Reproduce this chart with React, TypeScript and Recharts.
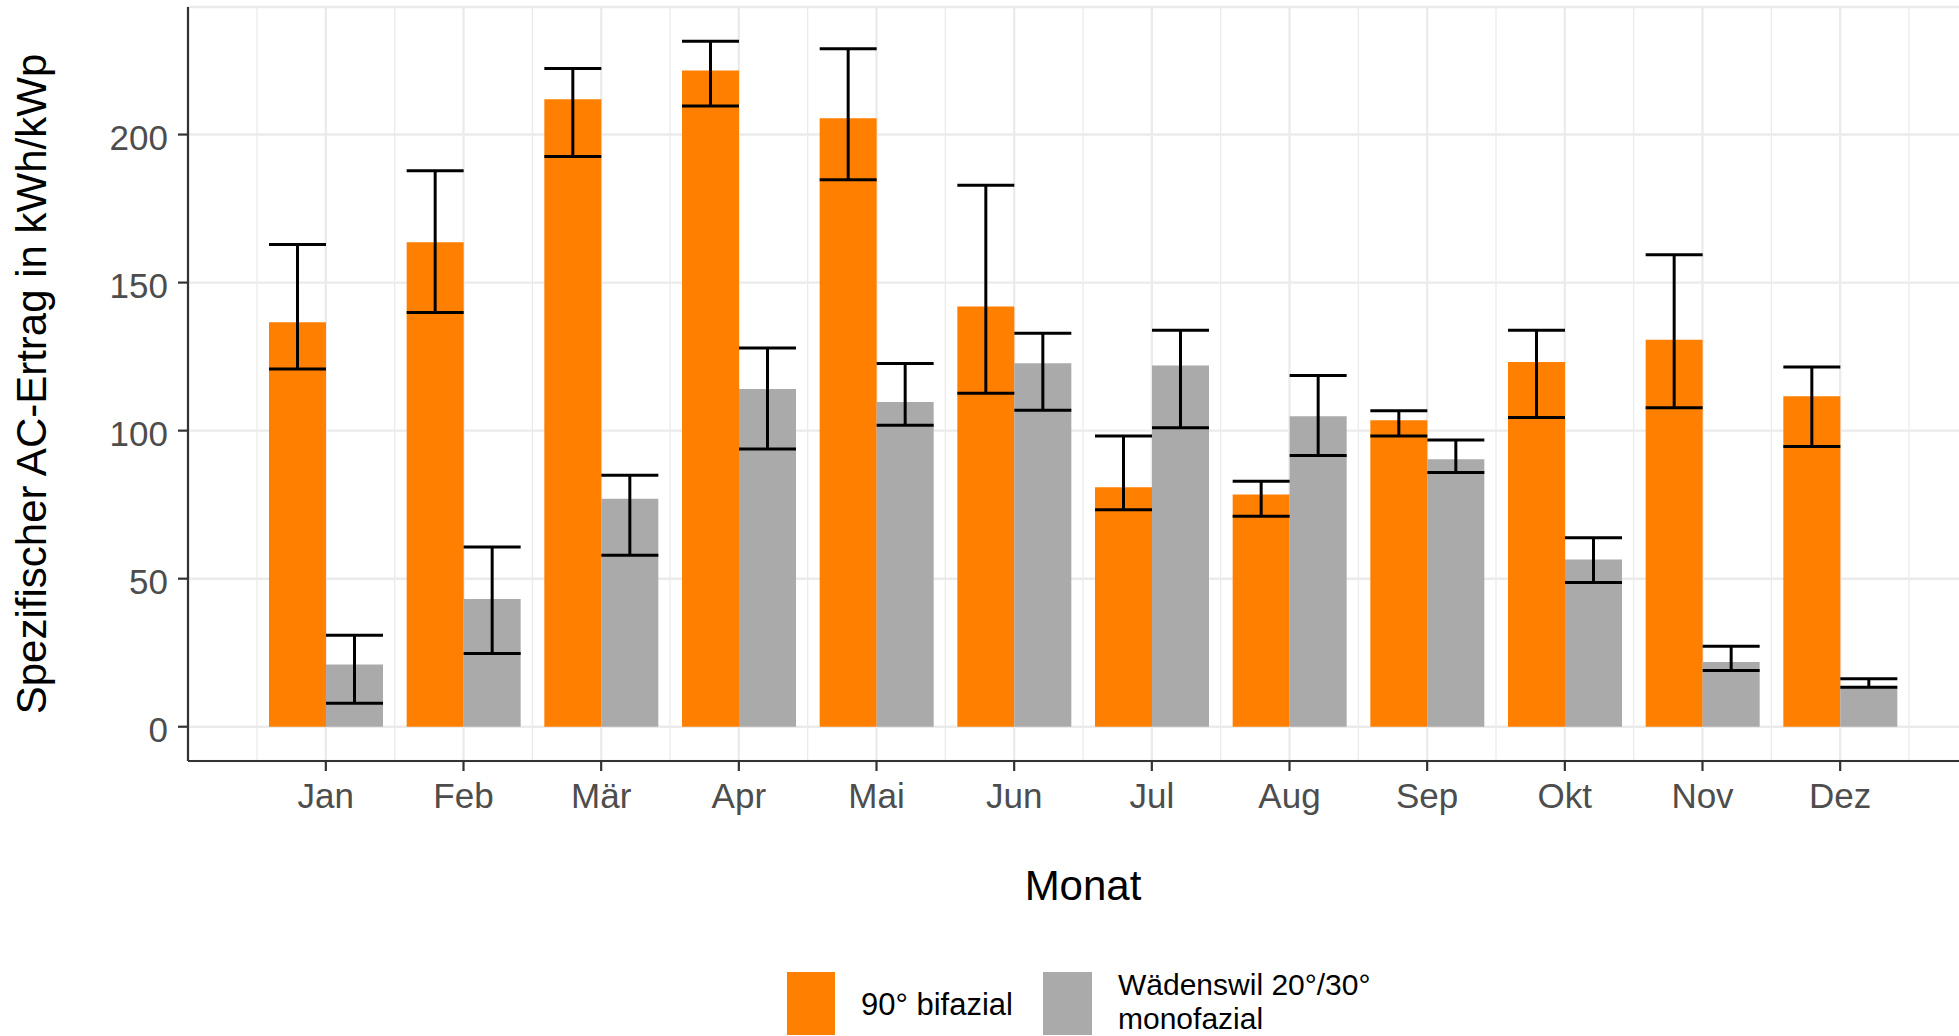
import React from "react";
import {
  BarChart,
  Bar,
  XAxis,
  YAxis,
  CartesianGrid,
  ErrorBar,
} from "recharts";

const months = ["Jan", "Feb", "Mär", "Apr", "Mai", "Jun", "Jul", "Aug", "Sep", "Okt", "Nov", "Dez"];

// 90° bifazial: mean, lower and upper error bound (kWh/kWp)
const bifazial = [136.6, 163.6, 211.9, 221.6, 205.5, 141.9, 80.9, 78.4, 103.5, 123.2, 130.7, 111.6];
const bifazialLow = [120.8, 139.9, 192.6, 209.6, 184.7, 112.6, 73.3, 71.1, 98.2, 104.4, 107.7, 94.6];
const bifazialHigh = [162.9, 187.8, 222.3, 231.5, 229.0, 182.9, 98.2, 82.9, 106.7, 133.9, 159.4, 121.5];

// Wädenswil 20°/30° monofazial
const mono = [21.0, 43.1, 77.0, 114.1, 109.7, 122.8, 122.0, 104.9, 90.3, 56.5, 21.9, 13.5];
const monoLow = [7.9, 24.7, 57.9, 93.8, 101.8, 106.9, 101.0, 91.6, 85.9, 48.7, 19.0, 13.3];
const monoHigh = [30.9, 60.7, 84.9, 127.9, 122.7, 132.9, 133.9, 118.6, 96.8, 63.8, 27.2, 16.2];

const yTicks = [0, 50, 100, 150, 200];

const seriesLabels = ["90° bifazial", "Wädenswil 20°/30°\nmonofazial"];

const ORANGE = "#FF7F00";
const GREY = "#AAAAAA";
const FONT = '"Liberation Sans", Arial, Helvetica, sans-serif';
const AXIS = "#333333";
const GRID = "#EBEBEB";

const chartData = months.map((month, i) => ({
  month,
  bifazial: bifazial[i],
  bifazialErr: [bifazial[i] - bifazialLow[i], bifazialHigh[i] - bifazial[i]],
  mono: mono[i],
  monoErr: [mono[i] - monoLow[i], monoHigh[i] - mono[i]],
}));

// ggplot style expansion: 5% of the data range on both ends
const yMax = Math.max(...bifazialHigh, ...monoHigh);
const yDomain = [-0.05 * yMax, 1.05 * yMax];

const PAD = 69;

// minor vertical grid lines sit on the band edges between months
const minorVertical = ({ xAxis, offset }: any) => {
  try {
    const s = xAxis?.scale;
    if (s && typeof s.range === "function") {
      const r = s.range();
      const start = Math.min(r[0], r[r.length - 1]);
      const end = Math.max(r[0], r[r.length - 1]);
      const band = (end - start) / months.length;
      return [...months, ""].map((_, i) => start + i * band);
    }
  } catch (e) {
    // fall through
  }
  const band = (offset.width - 2 * PAD) / months.length;
  return [...months, ""].map((_, i) => offset.left + PAD + i * band);
};

const YTick = ({ x, y, payload }: any) => (
  <text x={x} y={y} dy={15} textAnchor="end" fill="#4D4D4D" fontSize={35} fontFamily={FONT}>
    {payload.value}
  </text>
);

const XTick = ({ x, y, payload }: any) => (
  <text x={x} y={y} dy="0.71em" textAnchor="middle" fill="#4D4D4D" fontSize={35} fontFamily={FONT}>
    {payload.value}
  </text>
);

const YTitle = (props: any) => {
  const vb = props.viewBox || { y: 7, height: 754 };
  const cy = vb.y + vb.height / 2;
  return (
    <text
      x={46}
      y={cy}
      transform={`rotate(-90, 46, ${cy})`}
      textAnchor="middle"
      fill="#000"
      fontSize={42}
      fontFamily={FONT}
    >
      Spezifischer AC-Ertrag in kWh/kWp
    </text>
  );
};

function LegendBox() {
  const [first, second] = seriesLabels;
  const lines = second.split("\n");
  return (
    <svg
      width={1959}
      height={1036}
      style={{ position: "absolute", left: 0, top: 0, pointerEvents: "none" }}
    >
      <rect x={787} y={972} width={48} height={63} fill={ORANGE} />
      <text x={861} y={1015} fontSize={31} fontFamily={FONT} fill="#000">
        {first}
      </text>
      <rect x={1043} y={972} width={49} height={63} fill={GREY} />
      <text x={1118} y={995} fontSize={30} fontFamily={FONT} fill="#000">
        {lines[0]}
      </text>
      <text x={1118} y={1029} fontSize={30} fontFamily={FONT} fill="#000">
        {lines[1]}
      </text>
    </svg>
  );
}

export default function App() {
  return (
    <div
      style={{
        position: "fixed",
        left: 0,
        top: 0,
        width: 1959,
        height: 1036,
        overflow: "hidden",
        background: "#fff",
      }}
    >
      <BarChart
        width={1990}
        height={1036}
        data={chartData}
        margin={{ top: 7, right: 12, left: 0, bottom: 215 }}
        barGap={0}
      >
        <CartesianGrid
          horizontal={false}
          stroke={GRID}
          strokeWidth={1.3}
          verticalCoordinatesGenerator={minorVertical}
        />
        <CartesianGrid stroke={GRID} strokeWidth={2.4} />
        <XAxis
          dataKey="month"
          padding={{ left: PAD, right: PAD }}
          height={60}
          tickSize={10}
          tickMargin={12}
          interval={0}
          tick={<XTick />}
          tickLine={{ stroke: AXIS, strokeWidth: 2.2 }}
          axisLine={{ stroke: AXIS, strokeWidth: 2.2 }}
          label={{
            value: "Monat",
            position: "bottom",
            offset: 49,
            fill: "#000",
            fontSize: 42,
            fontFamily: FONT,
          }}
        />
        <XAxis
          xAxisId="top"
          orientation="top"
          dataKey="month"
          height={0}
          tick={false}
          tickLine={false}
          axisLine={{ stroke: AXIS, strokeWidth: 2.2 }}
        />
        <YAxis
          type="number"
          domain={yDomain}
          ticks={yTicks}
          width={188}
          tickSize={10}
          tickMargin={10}
          interval={0}
          tick={<YTick />}
          tickLine={{ stroke: AXIS, strokeWidth: 2.2 }}
          axisLine={{ stroke: AXIS, strokeWidth: 2.2 }}
          allowDataOverflow
          label={YTitle}
        />
        <Bar dataKey="bifazial" fill={ORANGE} barSize={57} isAnimationActive={false}>
          <ErrorBar
            dataKey="bifazialErr"
            direction="y"
            width={28.5}
            stroke="#000"
            strokeWidth={3}
            isAnimationActive={false}
          />
        </Bar>
        <Bar dataKey="mono" fill={GREY} barSize={57} isAnimationActive={false}>
          <ErrorBar
            dataKey="monoErr"
            direction="y"
            width={28.5}
            stroke="#000"
            strokeWidth={3}
            isAnimationActive={false}
          />
        </Bar>
      </BarChart>
      <LegendBox />
    </div>
  );
}
